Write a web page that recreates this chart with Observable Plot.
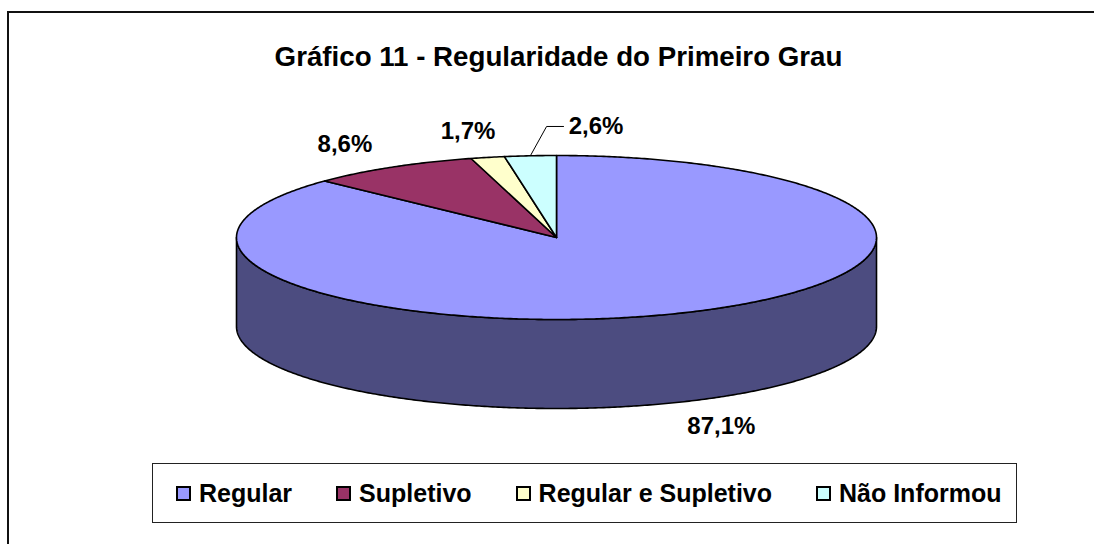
<!DOCTYPE html>
<html>
<head>
<meta charset="utf-8">
<script src="https://cdn.jsdelivr.net/npm/d3@7"></script>
<script src="https://cdn.jsdelivr.net/npm/@observablehq/plot@0.6"></script>
<style>
  html, body { margin: 0; padding: 0; background: #fff; overflow: hidden; }
  #wrap { position: relative; width: 1094px; height: 544px; font-family: "Liberation Sans", Arial, sans-serif; }
  #chart { position: absolute; left: 0; top: 0; }
  #frame { position: absolute; left: 7px; top: 11px; width: 1110px; height: 560px; border: 2px solid #111; box-sizing: border-box; }
  #title { position: absolute; left: 0; width: 1117px; top: 41px; text-align: center; font-weight: bold; font-size: 27.7px; color: #000; white-space: nowrap; }
  #legend { position: absolute; left: 152px; top: 463px; width: 865px; height: 60px; border: 1px solid #222; box-sizing: border-box; display: flex; align-items: center; padding-left: 23px; }
  .item { display: flex; align-items: center; font-weight: bold; font-size: 25px; color: #000; white-space: nowrap; margin-right: 44px; }
  .sw { width: 15px; height: 15px; border: 2px solid #000; box-sizing: border-box; margin-right: 8px; margin-top: 1px; }
</style>
</head>
<body>
<div id="wrap">
  <div id="chart"></div>
  <div id="frame"></div>
  <div id="title"></div>
  <div id="legend"></div>
</div>
<script>
// ---- data ----
const title = "Gráfico 11 - Regularidade do Primeiro Grau";
const categories = ["Regular", "Supletivo", "Regular e Supletivo", "Não Informou"];
const values = [87.1, 8.6, 1.7, 2.6];
const valueLabels = ["87,1%", "8,6%", "1,7%", "2,6%"];
const topColors = ["#9999FF", "#993366", "#FFFFCC", "#CCFFFF"];
const sideColors = ["#4C4C80", "#4D1A33", "#808066", "#668080"];

// ---- geometry (derived from values) ----
const tau = 2 * Math.PI;
const total = d3.sum(values);
const RX = 320, RY = 82;          // pixel semi-axes of the top ellipse
const depth = 89 / RY;            // side height in units of the vertical semi-axis
const labelK = 1.2;               // label anchor distance factor
const labelFont = "bold 24px 'Liberation Sans', Arial, sans-serif";
const ctx = document.createElement("canvas").getContext("2d");
ctx.font = labelFont;

let acc = 0;
const slices = values.map((v, i) => { const a0 = acc; acc += tau * v / total; return {i, a0, a1: acc}; });
function arcTs(a0, a1) {
  const n = Math.max(2, Math.ceil((a1 - a0) / (tau / 720)));
  return d3.range(n + 1).map(j => a0 + (a1 - a0) * j / n);
}
const pt = (t, k = 1, dz = 0) => ({x: k * Math.sin(t), y: -k * Math.cos(t) + dz});

const topPts = slices.flatMap(s => {
  const pts = [{x: 0, y: 0}, ...arcTs(s.a0, s.a1).map(t => pt(t)), {x: 0, y: 0}];
  return pts.map(p => ({...p, k: categories[s.i], c: topColors[s.i]}));
});
const sidePts = slices.flatMap(s => {
  const b0 = Math.max(s.a0, Math.PI / 2), b1 = Math.min(s.a1, 3 * Math.PI / 2);
  if (b1 <= b0) return [];
  const ts = arcTs(b0, b1);
  const upper = ts.map(t => pt(t));
  const lower = ts.slice().reverse().map(t => pt(t, 1, depth));
  return [...upper, ...lower, upper[0]].map(p => ({...p, k: categories[s.i], c: sideColors[s.i]}));
});

// labels: box placed just outside the anchor point at the mid-angle;
// the last (small) slice gets a leader line to avoid overlapping its neighbour
const labelData = [];
const leaderPts = [];
slices.forEach(s => {
  const m = (s.a0 + s.a1) / 2;
  const front = Math.cos(m) < 0;
  const text = valueLabels[s.i];
  if (s.i === 3) {
    const a = pt(m);
    const elbow = {x: -0.031, y: -1.354};
    const end = {x: elbow.x + 0.053, y: elbow.y};
    leaderPts.push(a, elbow, end);
    labelData.push({x: end.x + 0.016, y: end.y, text, anchor: "start"});
  } else {
    const p = pt(m, labelK, front ? depth : 0);
    const w = ctx.measureText(text).width, h = 20;
    labelData.push({
      x: p.x + Math.sin(m) * (w / 2) / RX,
      y: p.y - Math.cos(m) * (h / 2) / RY,
      text, anchor: "middle"
    });
  }
});

const chart = Plot.plot({
  width: 1094,
  height: 544,
  margin: 0,
  x: {domain: [-1, 1], range: [556 - RX, 556 + RX], axis: null},
  y: {domain: [-1, 1], range: [237 - RY, 237 + RY], axis: null},
  color: {type: "identity"},
  style: {fontFamily: "'Liberation Sans', Arial, sans-serif", background: "transparent"},
  marks: [
    Plot.line(sidePts, {x: "x", y: "y", z: "k", fill: "c", stroke: "#000", strokeWidth: 1.6, curve: "linear"}),
    Plot.line(topPts, {x: "x", y: "y", z: "k", fill: "c", stroke: "#000", strokeWidth: 1.6, curve: "linear", strokeLinejoin: "round"}),
    Plot.line(leaderPts, {x: "x", y: "y", stroke: "#000", strokeWidth: 1}),
    Plot.text(labelData.filter(d => d.anchor === "middle"), {x: "x", y: "y", text: "text", fontSize: 24, fontWeight: "bold", fill: "#000", textAnchor: "middle"}),
    Plot.text(labelData.filter(d => d.anchor === "start"), {x: "x", y: "y", text: "text", fontSize: 24, fontWeight: "bold", fill: "#000", textAnchor: "start"})
  ]
});
document.getElementById("chart").appendChild(chart);

document.getElementById("title").textContent = title;
const legend = document.getElementById("legend");
categories.forEach((c, i) => {
  const item = document.createElement("div");
  item.className = "item";
  const sw = document.createElement("div");
  sw.className = "sw";
  sw.style.background = topColors[i];
  const tx = document.createElement("span");
  tx.textContent = c;
  item.appendChild(sw);
  item.appendChild(tx);
  legend.appendChild(item);
});
</script>
</body>
</html>
